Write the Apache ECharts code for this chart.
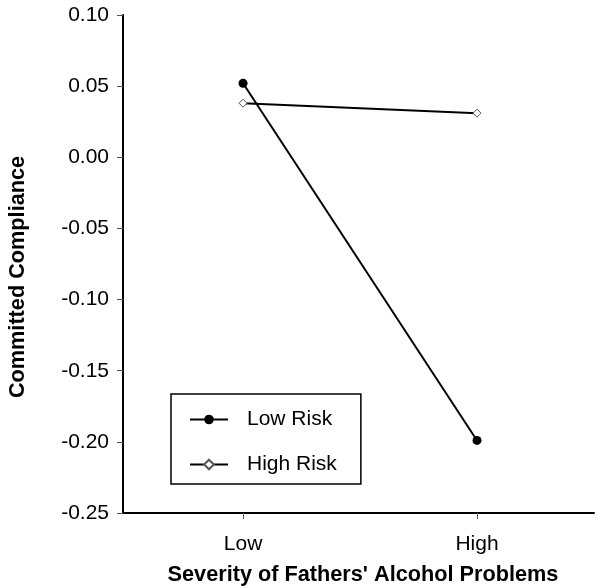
<!DOCTYPE html>
<html>
<head>
<meta charset="utf-8">
<script src="https://cdn.jsdelivr.net/npm/echarts@6/dist/echarts.min.js"></script>
<style>
html,body{margin:0;padding:0;background:#fff;}
#chart{width:602px;height:587px;}
</style>
</head>
<body>
<div id="chart"></div>
<script>
const categories = ['Low', 'High'];
const categoryPositions = [1, 2];
const lowRisk = [0.052, -0.199];
const highRisk = [0.038, 0.031];
const seriesNames = ['Low Risk', 'High Risk'];
const yTicks = { min: -0.25, max: 0.10, step: 0.05 };

const font = '"Liberation Sans", Arial, sans-serif';
const chart = echarts.init(document.getElementById('chart'));

function pairs(vals) { return vals.map((v, i) => [categoryPositions[i], v]); }

chart.setOption({
  backgroundColor: '#fff',
  animation: false,
  grid: { left: 123, right: 8, top: 15, bottom: 74, containLabel: false, outerBoundsMode: 'none' },
  legend: {
    orient: 'vertical',
    left: 171, top: 394,
    padding: [15, 24, 9, 18],
    itemGap: 24,
    itemWidth: 38, itemHeight: 12,
    borderColor: '#000', borderWidth: 1.5,
    textStyle: { fontFamily: font, fontSize: 21, color: '#000', padding: [0, 0, 0, 14] },
    data: seriesNames
  },
  xAxis: {
    type: 'value', min: 0.487, max: 2.5,
    splitLine: { show: false },
    axisLine: { onZero: false, lineStyle: { color: '#000', width: 2 } },
    axisTick: { show: true, customValues: categoryPositions, length: 6, inside: false, lineStyle: { color: '#555', width: 1 } },
    axisLabel: {
      customValues: categoryPositions,
      formatter: v => categories[categoryPositions.indexOf(v)] || '',
      fontFamily: font, fontSize: 21, color: '#000', margin: 21
    },
    name: "Severity of Fathers' Alcohol Problems",
    nameLocation: 'middle', nameGap: 51,
    nameTextStyle: { fontFamily: font, fontSize: 21.7, fontWeight: 'bold', color: '#000', padding: [0, 0, 0, 9] }
  },
  yAxis: {
    type: 'value', min: yTicks.min, max: yTicks.max, interval: yTicks.step,
    splitLine: { show: false },
    axisLine: { show: true, onZero: false, lineStyle: { color: '#000', width: 2 } },
    axisTick: { show: true, length: 6, lineStyle: { color: '#555', width: 1 } },
    axisLabel: {
      formatter: v => v.toFixed(2),
      fontFamily: font, fontSize: 21, color: '#000', margin: 14
    },
    name: 'Committed Compliance',
    nameLocation: 'middle', nameRotate: 90, nameGap: 94,
    nameTextStyle: { fontFamily: font, fontSize: 21.7, fontWeight: 'bold', color: '#000', padding: [0, 26, 0, 0] }
  },
  series: [
    {
      name: seriesNames[0], type: 'line', data: pairs(lowRisk),
      symbol: 'circle', symbolSize: 9,
      lineStyle: { color: '#000', width: 2 },
      itemStyle: { color: '#000', borderColor: '#000', borderWidth: 0 }
    },
    {
      name: seriesNames[1], type: 'line', data: pairs(highRisk),
      symbol: 'diamond', symbolSize: 8,
      lineStyle: { color: '#000', width: 2 },
      itemStyle: { color: '#fff', borderColor: '#555', borderWidth: 1 }
    }
  ]
});
</script>
</body>
</html>
